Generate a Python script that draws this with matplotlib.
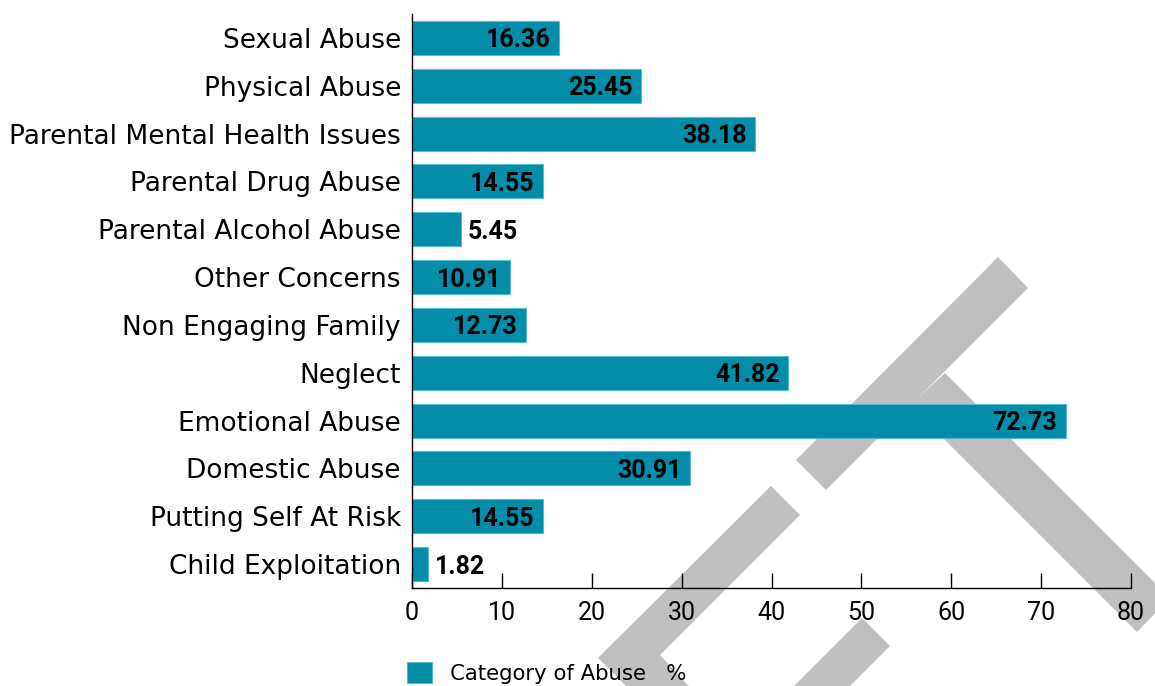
import numpy as np
import matplotlib
matplotlib.use("Agg")
import matplotlib.pyplot as plt
from matplotlib.patches import Polygon
from matplotlib.transforms import Affine2D

# categories listed top to bottom as in the chart
categories = [
    "Sexual Abuse",
    "Physical Abuse",
    "Parental Mental Health Issues",
    "Parental Drug Abuse",
    "Parental Alcohol Abuse",
    "Other Concerns",
    "Non Engaging Family",
    "Neglect",
    "Emotional Abuse",
    "Domestic Abuse",
    "Putting Self At Risk",
    "Child Exploitation",
]
values = [16.36, 25.45, 38.18, 14.55, 5.45, 10.91, 12.73, 41.82, 72.73, 30.91, 14.55, 1.82]
series_name = "Category of Abuse   %"
xticks = [0, 10, 20, 30, 40, 50, 60, 70, 80]

BAR = "#038DA9"
GREY = "#C0C0C0"
W, H = 1155, 686

plt.rcParams["font.family"] = ["DejaVu Sans"]

fig = plt.figure(figsize=(W / 100, H / 100), dpi=100)
ax = fig.add_axes([412 / W, 1 - 588 / H, (1131 - 412) / W, (588 - 14) / H])
ax.patch.set_visible(False)

# background watermark, in image pixel coordinates (y downwards)
px = Affine2D().scale(1 / W, -1 / H).translate(0, 1) + fig.transFigure
shapes = [
    [(998, 257), (1028, 288), (826, 490), (796, 460)],
    [(945, 373), (1170, 598), (1137, 632), (910, 405)],
    [(771, 486), (800, 515), (660, 655), (720, 720), (660, 720), (598, 658)],
    [(862, 618), (890, 646), (816, 720), (760, 720)],
]
for pts in shapes:
    fig.add_artist(Polygon(pts, closed=True, facecolor=GREY, edgecolor="none",
                           transform=px, zorder=-1))

pos = np.arange(len(categories))[::-1]
bars = ax.barh(pos, values, height=0.71, color=BAR, edgecolor="#5BB8CC",
               linewidth=0.8, label=series_name, zorder=2)

value_font = dict(fontsize=18, fontweight="bold", family=["Roboto", "DejaVu Sans"])
for p, v in zip(pos, values):
    if v > 8:
        ax.annotate(f"{v:.2f}", (v, p), xytext=(-6, 0), textcoords="offset points",
                    ha="right", va="center_baseline", zorder=3, **value_font)
    else:
        ax.annotate(f"{v:.2f}", (v, p), xytext=(5, 0), textcoords="offset points",
                    ha="left", va="center_baseline", zorder=3, **value_font)

ax.set_xlim(0, 80)
ax.set_ylim(-0.5, len(categories) - 0.5)
ax.set_yticks(pos)
ax.set_yticklabels(categories, fontsize=19)
ax.set_xticks(xticks)
ax.set_xticklabels([str(t) for t in xticks], fontsize=18, family=["Roboto", "DejaVu Sans"])
ax.tick_params(axis="y", length=0, pad=8)
ax.tick_params(axis="x", direction="in", length=10.5, width=1, pad=9)

for side in ["top", "right"]:
    ax.spines[side].set_visible(False)
for side in ["left", "bottom"]:
    ax.spines[side].set_linewidth(1.0)

ax.legend(handles=[bars], loc="center left", bbox_to_anchor=(407 / W, 1 - 673 / H),
          bbox_transform=fig.transFigure, frameon=False, fontsize=15.3,
          handlelength=1.18, handleheight=1.13, handletextpad=0.85, borderpad=0,
          borderaxespad=0)

fig.savefig("out.png", dpi=100)
